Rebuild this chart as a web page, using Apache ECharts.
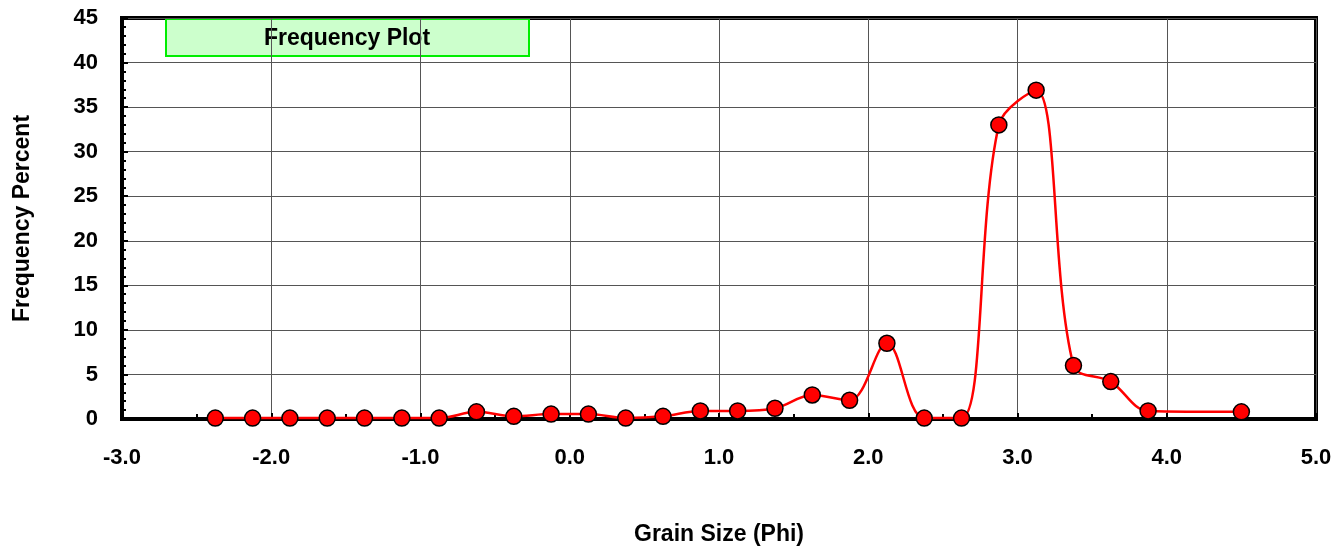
<!DOCTYPE html>
<html>
<head>
<meta charset="utf-8">
<script src="https://cdn.jsdelivr.net/npm/echarts@6/dist/echarts.min.js"></script>
<style>
  html, body { margin: 0; padding: 0; background: #fff; }
  #chart { width: 1337px; height: 546px; }
</style>
</head>
<body>
<div id="chart"></div>
<script>
// grain size (phi) midpoints and frequency percent
var phi = [-2.375, -2.125, -1.875, -1.625, -1.375, -1.125, -0.875, -0.625, -0.375,
  -0.125, 0.125, 0.375, 0.625, 0.875, 1.125, 1.375, 1.625, 1.875, 2.125, 2.375,
  2.625, 2.875, 3.125, 3.375, 3.625, 3.875, 4.5];
var freq = [0.1, 0.1, 0.1, 0.1, 0.1, 0.1, 0.1, 0.8, 0.3,
  0.55, 0.55, 0.1, 0.3, 0.9, 0.9, 1.2, 2.7, 2.1, 8.5, 0.1,
  0.1, 33.0, 36.9, 6.0, 4.2, 0.9, 0.8];
var chartTitle = "Frequency Plot";

var font = "'Liberation Sans', Arial, sans-serif";
var myChart = echarts.init(document.getElementById("chart"));

var option = {
  animation: false,
  grid: {
    left: 122, right: 21, top: 18, bottom: 127,
    outerBoundsMode: "none",
    containLabel: false,
    show: true, borderColor: "#000", borderWidth: 4
  },
  xAxis: {
    type: "value",
    min: -3, max: 5, interval: 1,
    name: "Grain Size (Phi)",
    nameLocation: "middle",
    nameGap: 104,
    nameTextStyle: { fontFamily: font, fontWeight: "bold", fontSize: 23, color: "#000" },
    axisLine: { show: true, onZero: false, lineStyle: { color: "#000", width: 4 } },
    axisTick: { show: true, inside: true, length: 6, lineStyle: { color: "#000", width: 2 } },
    minorTick: { show: true, splitNumber: 2, length: 5, lineStyle: { color: "#000", width: 2 } },
    splitLine: { show: true, lineStyle: { color: "#555", width: 1 } },
    axisLabel: {
      margin: 28, fontFamily: font, fontWeight: "bold", fontSize: 22, color: "#000",
      formatter: function (v) { return v.toFixed(1); }
    }
  },
  yAxis: {
    type: "value",
    min: 0, max: 45, interval: 5,
    name: "Frequency Percent",
    nameLocation: "middle",
    nameGap: 88,
    nameTextStyle: { fontFamily: font, fontWeight: "bold", fontSize: 23, color: "#000" },
    axisLine: { show: true, onZero: false, lineStyle: { color: "#000", width: 4 } },
    axisTick: { show: true, inside: true, length: 6, lineStyle: { color: "#000", width: 2 } },
    minorTick: { show: true, splitNumber: 5, length: 4, lineStyle: { color: "#000", width: 2 } },
    splitLine: { show: true, lineStyle: { color: "#555", width: 1 } },
    axisLabel: { margin: 24, fontFamily: font, fontWeight: "bold", fontSize: 22, color: "#000" }
  },
  graphic: [{
    type: "group",
    left: 165, top: 18,
    children: [{
      type: "rect",
      shape: { x: 0, y: 0, width: 363, height: 37 },
      style: { fill: "#ccffcc", stroke: "#00ee00", lineWidth: 2 }
    }, {
      type: "text",
      x: 181, y: 20,
      style: {
        text: chartTitle, fontFamily: font, fontWeight: "bold", fontSize: 23,
        fill: "#000", align: "center", verticalAlign: "middle"
      }
    }]
  }],
  series: [{
    type: "line",
    data: phi.map(function (x, i) { return [x, freq[i]]; }),
    smooth: 0.35,
    symbol: "circle",
    symbolSize: 16,
    lineStyle: { color: "#ff0000", width: 2.5 },
    itemStyle: { color: "#ff0000", borderColor: "#000", borderWidth: 1.5 },
    z: 5
  }]
};

myChart.setOption(option);
</script>
</body>
</html>
